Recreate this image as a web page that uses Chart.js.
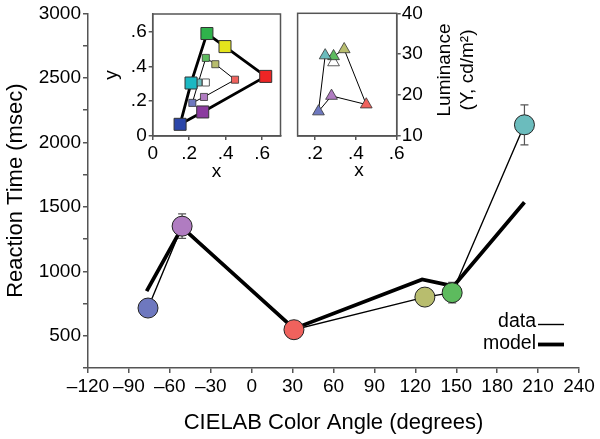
<!DOCTYPE html>
<html>
<head>
<meta charset="utf-8">
<script src="https://cdn.jsdelivr.net/npm/chart.js@4"></script>
<style>
  html, body { margin: 0; padding: 0; background: #fff; }
  #wrap { position: relative; width: 600px; height: 439px; }
  canvas { position: absolute; }
</style>
</head>
<body>
<div id="wrap">
  <canvas id="main" width="600" height="439" style="left:0;top:0"></canvas>
  <canvas id="inXY" width="200" height="185" style="left:90px;top:0"></canvas>
  <canvas id="inLum" width="200" height="185" style="left:290px;top:0"></canvas>
</div>
<script>
// main panel: reaction time vs hue angle (order: blue, purple, red, olive, green, teal)
const ANGLES = [-76, -51, 31, 127, 147, 200];
const RT = [715, 1350, 547, 800, 834, 2136];
const RT_ERR = [40, 95, 30, 40, 80, 155];
const MODEL_ANGLES = [-77, -51, 31, 125, 148, 200];
const MODEL_RT = [846, 1340, 555, 937, 885, 1536];
const DOT_COLORS = ['#6e78bf', '#b07cc1', '#ef625d', '#b8bd6e', '#5dbb5e', '#6bbcbd'];
const X_TICKS = [-120, -90, -60, -30, 0, 30, 60, 90, 120, 150, 180, 210, 240];
const Y_TICKS = [250, 500, 750, 1000, 1250, 1500, 1750, 2000, 2250, 2500, 2750, 3000];

// inset 1: CIE xy of monitor primaries (blue, cyan, green, yellow, red, purple)
const PRIM_X = [0.150, 0.210, 0.297, 0.396, 0.619, 0.274];
const PRIM_Y = [0.067, 0.304, 0.588, 0.513, 0.342, 0.138];
const PRIM_COLORS = ['#2b46a9', '#1bb8c3', '#2fb24b', '#e4e41c', '#ee2525', '#8b3b9f'];
// test colours, same order as the main panel
const TEST_X = [0.217, 0.281, 0.451, 0.343, 0.291, 0.250];
const TEST_Y = [0.190, 0.224, 0.323, 0.412, 0.448, 0.307];
const WHITE_X = [0.291];
const WHITE_Y = [0.307];
const XY_TICKS = [0, 0.2, 0.4, 0.6];

// inset 2: luminance of the test colours
const TEST_LUM = [16.0, 19.8, 17.7, 31.2, 29.5, 29.7];
const WHITE_LUM = [28.0];
const LUM_X_TICKS = [0.2, 0.4, 0.6];
const LUM_TICKS = [10, 20, 30, 40];

const FONT = 'Liberation Sans, Arial, sans-serif';
const AXIS = '#555';

Chart.defaults.font.family = FONT;
Chart.defaults.color = '#000';

function pts(xs, ys) { return xs.map((v, i) => ({x: v, y: ys[i]})); }
function closed(xs, ys) { const p = pts(xs, ys); p.push(p[0]); return p; }
function fixTicks(list) { return s => { s.ticks = list.map(v => ({value: v})); }; }
function frac(v) { return v === 0 ? '0' : v.toFixed(1).replace(/^0/, ''); }

function scaleBase(extra) {
  return Object.assign({
    type: 'linear',
    grid: {drawOnChartArea: false, drawTicks: true, tickLength: 5, color: AXIS, tickColor: AXIS, lineWidth: 1.5},
    border: {color: AXIS, width: 1.5},
  }, extra);
}
function tickOpts(extra) {
  return Object.assign({color: '#000', font: {family: FONT, size: 19}, autoSkip: false, maxRotation: 0}, extra);
}

const errorBars = {
  id: 'errorBars',
  beforeDatasetsDraw(chart) {
    const {ctx, scales: {x, y}} = chart;
    ctx.save();
    ctx.strokeStyle = AXIS;
    ctx.lineWidth = 1.2;
    ANGLES.forEach((a, i) => {
      const px = x.getPixelForValue(a);
      const top = y.getPixelForValue(RT[i] + RT_ERR[i]);
      const bot = y.getPixelForValue(RT[i] - RT_ERR[i]);
      ctx.beginPath();
      ctx.moveTo(px, top); ctx.lineTo(px, bot);
      ctx.moveTo(px - 4, top); ctx.lineTo(px + 4, top);
      ctx.moveTo(px - 4, bot); ctx.lineTo(px + 4, bot);
      ctx.stroke();
    });
    ctx.restore();
  }
};

const lineKey = {
  id: 'lineKey',
  afterDraw(chart) {
    const ctx = chart.ctx;
    ctx.save();
    ctx.font = '19.5px ' + FONT;
    ctx.fillStyle = '#000';
    ctx.textAlign = 'right';
    ctx.textBaseline = 'middle';
    ctx.fillText('data', 536, 322);
    ctx.fillText('model', 536, 344);
    ctx.strokeStyle = '#000';
    ctx.lineWidth = 1.4;
    ctx.beginPath(); ctx.moveTo(538, 324.5); ctx.lineTo(564, 324.5); ctx.stroke();
    ctx.lineWidth = 3.8;
    ctx.beginPath(); ctx.moveTo(538, 344.5); ctx.lineTo(564, 344.5); ctx.stroke();
    ctx.restore();
  }
};

const frame = {
  id: 'frame',
  afterDraw(chart) {
    const {ctx, chartArea: a} = chart;
    ctx.save();
    ctx.strokeStyle = AXIS;
    ctx.lineWidth = 1.5;
    ctx.strokeRect(a.left, a.top, a.right - a.left, a.bottom - a.top);
    ctx.restore();
  }
};

const lumTitle = {
  id: 'lumTitle',
  afterDraw(chart) {
    const ctx = chart.ctx;
    ctx.save();
    ctx.fillStyle = '#000';
    ctx.font = '19px ' + FONT;
    ctx.textAlign = 'center';
    ctx.textBaseline = 'middle';
    ctx.fillText('x', 69, 171);
    ctx.translate(155, 70);
    ctx.rotate(-Math.PI / 2);
    ctx.fillText('Luminance', 0, 0);
    ctx.fillText('(Y, cd/m\u00b2)', 0, 23);
    ctx.restore();
  }
};

// --- main chart ---
new Chart(document.getElementById('main'), {
  type: 'scatter',
  data: {
    datasets: [
      {data: pts(ANGLES, RT), pointRadius: 10, pointBackgroundColor: DOT_COLORS,
       pointBorderColor: '#222', pointBorderWidth: 1, showLine: false},
      {data: pts(ANGLES, RT), showLine: true, borderColor: '#000', borderWidth: 1.4, pointRadius: 0},
      {data: pts(MODEL_ANGLES, MODEL_RT), showLine: true, borderColor: '#000', borderWidth: 3.8, pointRadius: 0}
    ]
  },
  options: {
    responsive: false,
    animation: false,
    events: [],
    layout: {padding: {top: 13, right: 21, left: 0, bottom: 0}},
    plugins: {legend: {display: false}, tooltip: {enabled: false}},
    scales: {
      x: scaleBase({
        min: -120, max: 240,
        afterBuildTicks: fixTicks(X_TICKS),
        afterFit: s => { s.height = 71; },
        ticks: tickOpts({padding: 2, callback: v => String(v).replace('-', '\u2013')}),
        title: {display: true, text: 'CIELAB Color Angle (degrees)', color: '#000',
                font: {family: FONT, size: 22}, padding: {top: 0, bottom: 3}}
      }),
      y: scaleBase({
        min: 250, max: 3000,
        afterBuildTicks: fixTicks(Y_TICKS),
        afterFit: s => { s.width = 88; },
        ticks: tickOpts({padding: 2, callback: v => (v % 500 === 0 ? v : '')}),
        title: {display: true, text: 'Reaction Time (msec)', color: '#000',
                font: {family: FONT, size: 22}, padding: {top: 3, bottom: 0}}
      })
    }
  },
  plugins: [errorBars, lineKey]
});

// --- inset 1: chromaticity ---
new Chart(document.getElementById('inXY'), {
  type: 'scatter',
  data: {
    datasets: [
      {data: pts(PRIM_X, PRIM_Y), pointStyle: 'rect', pointRadius: 8.5, pointBackgroundColor: PRIM_COLORS,
       pointBorderColor: '#333', pointBorderWidth: 1},
      {data: pts(TEST_X, TEST_Y), pointStyle: 'rect', pointRadius: 5, pointBackgroundColor: DOT_COLORS,
       pointBorderColor: '#333', pointBorderWidth: 0.8},
      {data: pts(WHITE_X, WHITE_Y), pointStyle: 'rect', pointRadius: 5, pointBackgroundColor: '#fff',
       pointBorderColor: '#333', pointBorderWidth: 0.8},
      {data: closed(PRIM_X, PRIM_Y), showLine: true, borderColor: '#000', borderWidth: 2.8, pointRadius: 0},
      {data: closed(TEST_X, TEST_Y), showLine: true, borderColor: '#000', borderWidth: 1, pointRadius: 0}
    ]
  },
  options: {
    responsive: false,
    animation: false,
    events: [],
    layout: {padding: {top: 14, right: 6.7, left: 0, bottom: 0}},
    plugins: {legend: {display: false}, tooltip: {enabled: false}},
    scales: {
      x: scaleBase({
        min: 0, max: 0.7,
        afterBuildTicks: fixTicks(XY_TICKS),
        afterFit: s => { s.height = 49; },
        grid: {drawOnChartArea: false, tickLength: 4, color: AXIS, tickColor: AXIS, lineWidth: 1.5},
        ticks: tickOpts({padding: 2, callback: frac}),
        title: {display: true, text: 'x', color: '#000', font: {family: FONT, size: 19}, padding: {top: 0, bottom: 2}}
      }),
      y: scaleBase({
        min: 0, max: 0.7,
        afterBuildTicks: fixTicks(XY_TICKS),
        afterFit: s => { s.width = 62.7; },
        grid: {drawOnChartArea: false, tickLength: 4, color: AXIS, tickColor: AXIS, lineWidth: 1.5},
        ticks: tickOpts({padding: 2, callback: frac}),
        title: {display: true, text: 'y', color: '#000', font: {family: FONT, size: 19}, padding: {top: 10, bottom: 0}}
      })
    }
  },
  plugins: [frame]
});

// --- inset 2: luminance ---
new Chart(document.getElementById('inLum'), {
  type: 'scatter',
  data: {
    datasets: [
      {data: pts(TEST_X, TEST_LUM), pointStyle: 'triangle', pointRadius: 6.8, pointBackgroundColor: DOT_COLORS,
       pointBorderColor: '#333', pointBorderWidth: 0.8},
      {data: pts(WHITE_X, WHITE_LUM), pointStyle: 'triangle', pointRadius: 6.8, pointBackgroundColor: '#fff',
       pointBorderColor: '#333', pointBorderWidth: 0.8},
      {data: closed(TEST_X, TEST_LUM), showLine: true, borderColor: '#000', borderWidth: 1, pointRadius: 0}
    ]
  },
  options: {
    responsive: false,
    animation: false,
    events: [],
    layout: {padding: {top: 13.3, right: 0, left: 7.3, bottom: 0}},
    plugins: {legend: {display: false}, tooltip: {enabled: false}},
    scales: {
      x: scaleBase({
        min: 0.115, max: 0.6,
        afterBuildTicks: fixTicks(LUM_X_TICKS),
        afterFit: s => { s.height = 49; },
        grid: {drawOnChartArea: false, tickLength: 4, color: AXIS, tickColor: AXIS, lineWidth: 1.5},
        ticks: tickOpts({padding: 2, callback: frac})
      }),
      y: scaleBase({
        position: 'right',
        min: 10, max: 40,
        afterBuildTicks: fixTicks(LUM_TICKS),
        afterFit: s => { s.width = 93.3; },
        grid: {drawOnChartArea: false, tickLength: 4, color: AXIS, tickColor: AXIS, lineWidth: 1.5},
        ticks: tickOpts({padding: 1})
      })
    }
  },
  plugins: [frame, lumTitle]
});
</script>
</body>
</html>
